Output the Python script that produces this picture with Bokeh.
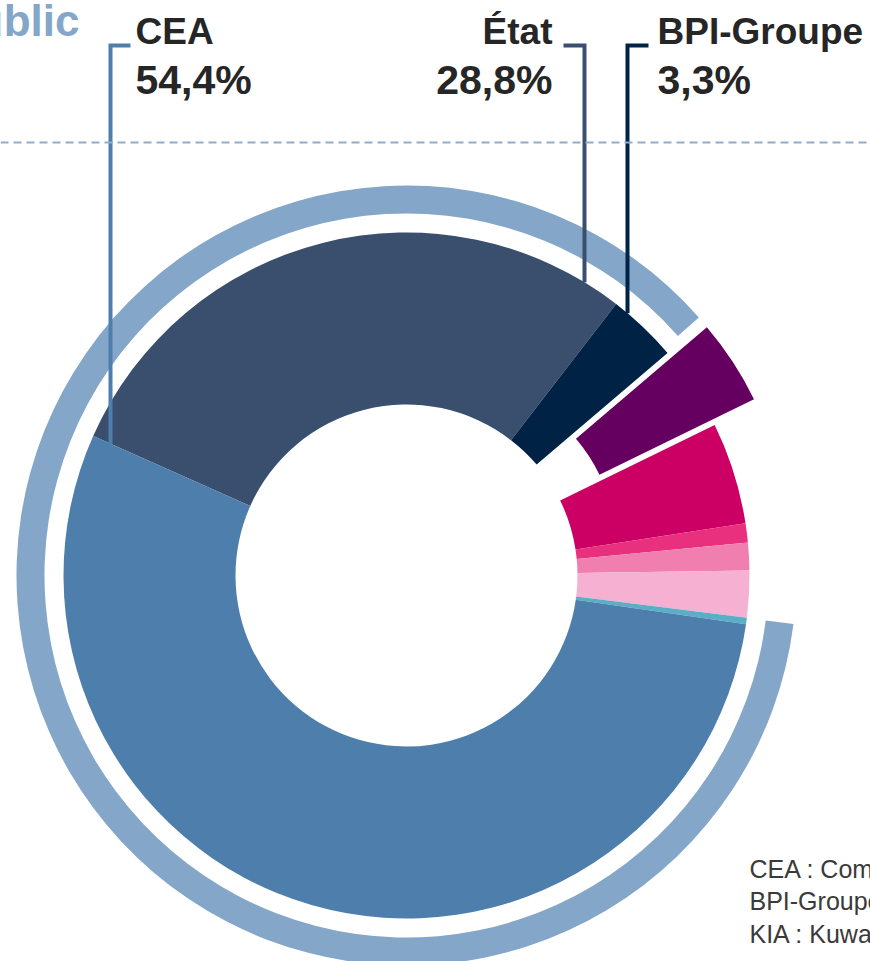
import numpy as np
from bokeh.plotting import figure
from bokeh.models import Range1d, Span, ColumnDataSource
from bokeh.core.properties import value
from bokeh.embed import file_html
from bokeh.resources import INLINE

# ---------------- data ----------------
categories = ["État", "BPI-Groupe", "Flottant", "KIA", "Total", "Salariés", "EDF", "Autocontrôle", "CEA"]
shares = [28.8, 3.3, 4.0, 4.8, 0.9, 1.3, 2.2, 0.3, 54.4]
colors = ["#3a4f6e", "#002244", "#660060", "#cc0064", "#e8307f", "#f07fb0", "#f5b0d2", "#5aafc6", "#4e7eac"]
exploded = ["Flottant"]
public_title = "Public"
labels = ["CEA", "État", "BPI-Groupe"]
footnotes = ["CEA : Commissariat à l'énergie atomique",
             "BPI-Groupe : Banque publique d'investissement",
             "KIA : Kuwait Investment Authority"]

# ---------------- geometry / style ----------------
W, H = 870, 961
CX, CY = 406.0, -575.0
R_IN, R_OUT = 171.0, 343.0
ARC_IN, ARC_OUT = 362.0, 390.0
START_DEG = 156.0
EXPLODE_DIST = 47.0
ARC_SHIFT_DEG = 1.0
FONT = "Liberation Sans"
TXT = "#262626"
MID = 0.35  # baseline -> middle offset (fraction of font size)

p = figure(width=W, height=H, x_range=Range1d(0, W), y_range=Range1d(-H, 0),
           output_backend="svg", toolbar_location=None, x_axis_type=None, y_axis_type=None,
           min_border=0, outline_line_color=None, background_fill_color="white")
p.grid.visible = False

vals = np.array(shares, dtype=float)
cum = np.concatenate([[0.0], np.cumsum(vals)])
hi = np.radians(START_DEG - cum[:-1] * 3.6)
lo = np.radians(START_DEG - cum[1:] * 3.6)
mid = (hi + lo) / 2
ex = np.array([EXPLODE_DIST if c in exploded else 0.0 for c in categories])
src = ColumnDataSource(dict(x=CX + ex * np.cos(mid), y=CY + ex * np.sin(mid),
                            start=lo, end=hi, color=colors, name=categories))

# dashed guide line
p.add_layout(Span(location=-142, dimension="width", line_color="#8cadd0",
                  line_width=2, line_dash="8 5"))

# outer "public" arc
idx = {c: i for i, c in enumerate(categories)}
arc_start = lo[idx["BPI-Groupe"]] + np.radians(ARC_SHIFT_DEG)
arc_end = hi[idx["CEA"]] + np.radians(ARC_SHIFT_DEG)
while arc_end <= arc_start:
    arc_end += 2 * np.pi
p.annular_wedge(x=[CX], y=[CY], inner_radius=ARC_IN, outer_radius=ARC_OUT,
                start_angle=[arc_start], end_angle=[arc_end], direction="anticlock",
                fill_color="#84a6c9", line_color=None)

# donut
p.annular_wedge(x="x", y="y", inner_radius=R_IN, outer_radius=R_OUT,
                start_angle="start", end_angle="end", direction="anticlock",
                fill_color="color", line_color=None, source=src)

# leader lines
def col(c):
    return colors[idx[c]]

x_cea = 110.0
y_cea = CY + (x_cea - CX) * np.tan(np.radians(START_DEG))
p.line([130, x_cea, x_cea], [-45, -45, y_cea], line_width=4, line_color=col("CEA"), line_join="miter")

x_etat = 584.0
y_etat = CY + np.sqrt(R_OUT ** 2 - (x_etat - CX) ** 2)
p.line([563, x_etat, x_etat], [-45, -45, y_etat], line_width=4, line_color=col("État"), line_join="miter")

x_bpi = 627.0
y_bpi = CY + np.sqrt(R_OUT ** 2 - (x_bpi - CX) ** 2)
p.line([648, x_bpi, x_bpi], [-45, -45, y_bpi], line_width=4, line_color=col("BPI-Groupe"), line_join="miter")

def pct(v):
    return ("%.1f" % v).replace(".", ",") + "%"

def put(x, baseline, txt, size, align="left", font=FONT, style="bold", color=TXT):
    p.text(x=[x], y=[-(baseline - MID * size)], text=[txt], text_font=value(font),
           text_font_style=style, text_font_size="%dpx" % size, text_color=color,
           text_align=align, text_baseline="middle")

label_x = {"CEA": 135, "État": 552, "BPI-Groupe": 657}
label_align = {"CEA": "left", "État": "right", "BPI-Groupe": "left"}
for lab in labels:
    put(label_x[lab], 44, lab, 37, label_align[lab])
    put(label_x[lab], 94, pct(shares[idx[lab]]), 41, label_align[lab])

# title (partly outside the picture, as in the source)
put(79, 35, public_title, 44, "right", color="#84a6c9")

# footnotes (run past the right edge, as in the source)
for i, t in enumerate(footnotes):
    put(749, 877 + 32.5 * i, t, 25, "left", style="normal", color="#3a3a3a")

open("out.html", "w").write(file_html(p, INLINE))
